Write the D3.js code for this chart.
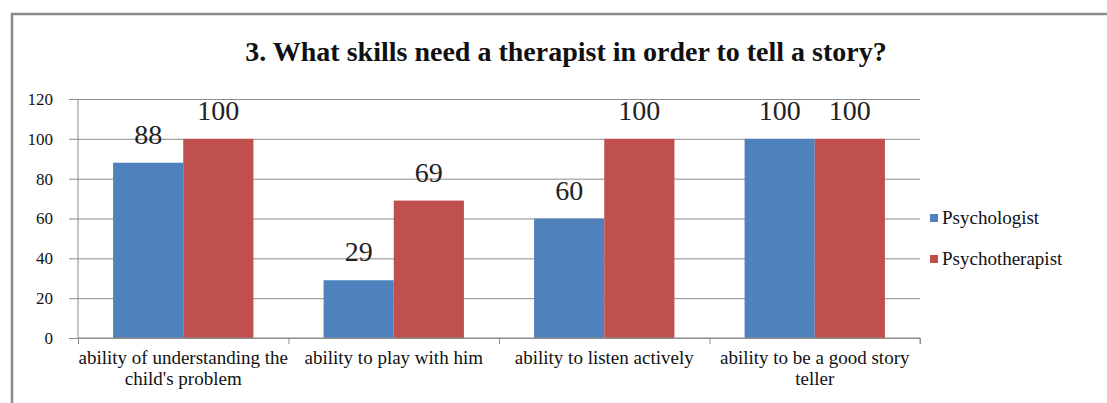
<!DOCTYPE html>
<html>
<head>
<meta charset="utf-8">
<script src="https://cdn.jsdelivr.net/npm/d3@7"></script>
<style>
  body { margin: 0; background: #fff; }
  svg text { font-family: "Liberation Serif", "Times New Roman", serif; }
</style>
</head>
<body>
<script>
var width = 1107;
var height = 403;

var categories = [
    ["ability of understanding the", "child's problem"],
    ["ability to play with him"],
    ["ability to listen actively"],
    ["ability to be a good story", "teller"]
];
var seriesNames = ["Psychologist", "Psychotherapist"];
var psychologist = [88, 29, 60, 100];
var psychotherapist = [100, 69, 100, 100];
var yTicks = [0, 20, 40, 60, 80, 100, 120];
var colors = ["#4F81BD", "#C0504D"];

var padding = { left: 78, right: 187, top: 99, bottom: 65 };

var svg = d3.select("body")
    .append("svg")
    .attr("width", width)
    .attr("height", height);

// frame of the chart
svg.append("path")
    .attr("d", "M12," + height + "V14H" + width)
    .attr("fill", "none")
    .attr("stroke", "#8c8c8c")
    .attr("stroke-width", 2.5);

svg.append("text")
    .attr("x", 566)
    .attr("y", 61)
    .attr("text-anchor", "middle")
    .attr("font-size", 28)
    .attr("font-weight", "bold")
    .attr("fill", "#111")
    .text("3. What skills need a therapist in order to tell a story?");

var x0 = d3.scaleBand()
    .domain(d3.range(categories.length))
    .range([padding.left, width - padding.right])
    .paddingInner(1 / 3)
    .paddingOuter(1 / 6);

var x1 = d3.scaleBand()
    .domain(d3.range(seriesNames.length))
    .range([0, x0.bandwidth()]);

var yScale = d3.scaleLinear()
    .domain([0, 120])
    .range([height - padding.bottom, padding.top]);

// gridlines + y axis
var yAxis = d3.axisLeft(yScale)
    .tickValues(yTicks)
    .tickSize(-(width - padding.right - padding.left) - 9)
    .tickPadding(16)
    .tickFormat(d3.format("d"));

var gy = svg.append("g")
    .attr("transform", "translate(" + (padding.left - 9) + ",0)")
    .call(yAxis);
gy.select(".domain").remove();
gy.selectAll(".tick line").attr("stroke", "#8c8c8c");
gy.selectAll(".tick text")
    .attr("font-size", 17)
    .attr("fill", "#111");

svg.append("line")
    .attr("x1", padding.left).attr("x2", padding.left)
    .attr("y1", padding.top).attr("y2", height - padding.bottom)
    .attr("stroke", "#8c8c8c");

var data = [psychologist, psychotherapist];

var groups = svg.selectAll(".grp")
    .data(categories)
    .enter()
    .append("g")
    .attr("class", "grp")
    .attr("transform", function (d, i) { return "translate(" + x0(i) + ",0)"; });

groups.selectAll("rect")
    .data(function (d, i) { return data.map(function (s) { return s[i]; }); })
    .enter()
    .append("rect")
    .attr("x", function (d, j) { return x1(j); })
    .attr("y", function (d) { return yScale(d); })
    .attr("width", x1.bandwidth())
    .attr("height", function (d) { return yScale(0) - yScale(d); })
    .attr("fill", function (d, j) { return colors[j]; });

groups.selectAll(".val")
    .data(function (d, i) { return data.map(function (s) { return s[i]; }); })
    .enter()
    .append("text")
    .attr("class", "val")
    .attr("x", function (d, j) { return x1(j) + x1.bandwidth() / 2; })
    .attr("y", function (d) { return yScale(d) - 19; })
    .attr("text-anchor", "middle")
    .attr("font-size", 28)
    .attr("fill", "#222")
    .text(function (d) { return d; });

// x axis with ticks at category boundaries
var xb = d3.scaleLinear().domain([0, categories.length]).range([padding.left, width - padding.right]);
var gx = svg.append("g")
    .attr("transform", "translate(0," + yScale(0) + ")")
    .call(d3.axisBottom(xb).ticks(categories.length).tickSize(6).tickFormat(""));
gx.selectAll("line, path").attr("stroke", "#8c8c8c");
gx.select(".domain").attr("d", "M" + padding.left + ",0H" + (width - padding.right) + "V6");

var labels = svg.selectAll(".xlab")
    .data(categories)
    .enter()
    .append("text")
    .attr("class", "xlab")
    .attr("text-anchor", "middle")
    .attr("font-size", 19)
    .attr("fill", "#111")
    .attr("transform", function (d, i) { return "translate(" + (x0(i) + x0.bandwidth() / 2) + "," + (yScale(0) + 26) + ")"; });
labels.selectAll("tspan")
    .data(function (d) { return d; })
    .enter()
    .append("tspan")
    .attr("x", 0)
    .attr("dy", function (d, k) { return k === 0 ? 0 : 21; })
    .text(function (d) { return d; });

// legend
var legend = svg.selectAll(".leg")
    .data(seriesNames)
    .enter()
    .append("g")
    .attr("class", "leg")
    .attr("transform", function (d, i) { return "translate(930," + (218 + i * 41) + ")"; });
legend.append("rect")
    .attr("x", 0).attr("y", -4)
    .attr("width", 8).attr("height", 8)
    .attr("fill", function (d, i) { return colors[i]; });
legend.append("text")
    .attr("x", 12)
    .attr("y", 6)
    .attr("font-size", 19)
    .attr("fill", "#111")
    .text(function (d) { return d; });
</script>
</body>
</html>
